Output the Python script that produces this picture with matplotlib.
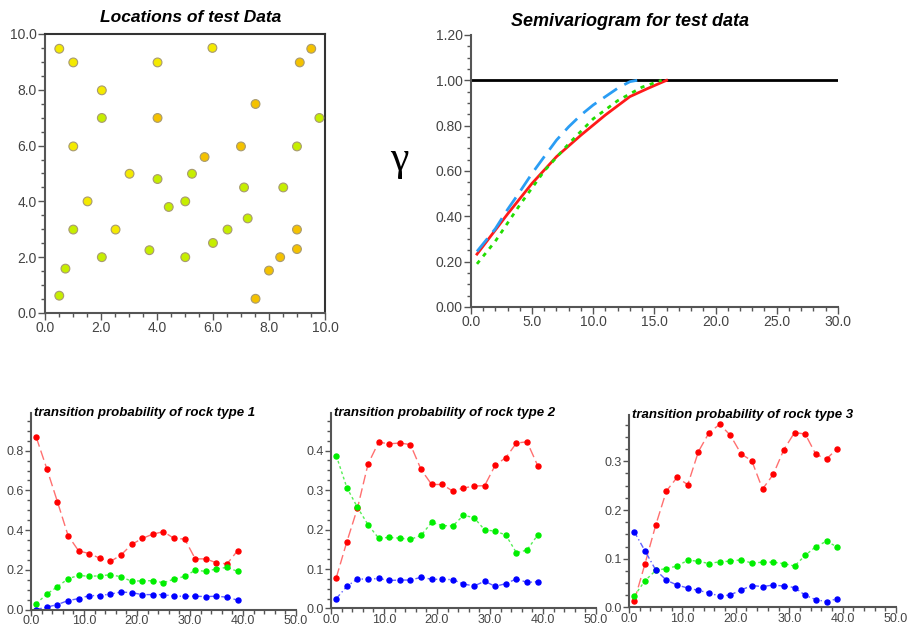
import matplotlib.pyplot as plt
from matplotlib.ticker import MultipleLocator, FormatStrFormatter

plt.rcParams['font.family'] = ['Liberation Sans', 'DejaVu Sans']

# -------------------------
# Data
# -------------------------
# locations of test data, colour group: 0 yellow, 1 yellow-green, 2 orange
loc_x = [0.51, 1.01, 2.03, 2.03, 4.02, 4.02, 5.98, 1.01, 3.02, 1.52,
         1.01, 2.52, 2.03, 0.73, 0.51, 3.73, 4.02, 4.42, 5.01, 5.01,
         5.25, 5.70, 6.00, 6.52, 7.00, 7.11, 7.24, 7.52, 7.52, 8.00,
         8.40, 8.51, 9.00, 9.00, 9.00, 9.10, 9.51, 9.80]
loc_y = [9.47, 8.98, 7.98, 6.99, 8.98, 6.99, 9.50, 5.97, 4.99, 4.00,
         2.99, 2.99, 2.00, 1.59, 0.62, 2.25, 4.80, 3.80, 4.00, 2.00,
         4.99, 5.59, 2.51, 2.99, 5.97, 4.50, 3.39, 7.49, 0.51, 1.52,
         2.00, 4.50, 5.97, 2.99, 2.29, 8.98, 9.47, 6.99]
loc_group = [0, 0, 0, 1, 0, 2, 0, 0, 0, 0,
             1, 0, 1, 1, 1, 1, 1, 1, 1, 1,
             1, 2, 1, 1, 2, 1, 1, 2, 2, 2,
             2, 1, 1, 2, 2, 2, 2, 1]
group_colors = ['#f4ea00', '#c6ee00', '#f4c200']

# semivariogram curves
sill = 1.0
red_h = [0.5, 3.0, 5.0, 7.0, 9.0, 11.0, 13.0, 14.5, 16.0]
red_g = [0.233, 0.41, 0.545, 0.663, 0.758, 0.847, 0.928, 0.965, 1.0]
blue_h = [0.5, 2.0, 3.0, 4.0, 5.0, 6.0, 7.0, 8.0, 9.0, 10.0, 11.0, 12.0, 13.0, 13.6]
blue_g = [0.245, 0.345, 0.43, 0.508, 0.589, 0.663, 0.736, 0.795, 0.847, 0.891,
          0.928, 0.965, 0.994, 1.0]
green_h = [0.5, 2.0, 4.0, 6.0, 8.0, 10.0, 12.0, 14.0, 15.6]
green_g = [0.19, 0.29, 0.45, 0.60, 0.72, 0.83, 0.91, 0.97, 1.0]

# transition probabilities
lags = list(range(1, 40, 2))

tp1_red = [0.867, 0.708, 0.542, 0.372, 0.295, 0.282, 0.258, 0.242, 0.275, 0.328,
           0.358, 0.38, 0.392, 0.358, 0.355, 0.255, 0.255, 0.235, 0.23, 0.297]
tp1_green = [0.03, 0.078, 0.115, 0.155, 0.172, 0.167, 0.17, 0.175, 0.165, 0.142,
             0.145, 0.145, 0.135, 0.153, 0.167, 0.198, 0.192, 0.205, 0.212, 0.192]
tp1_blue = [0.0, 0.012, 0.025, 0.045, 0.055, 0.07, 0.07, 0.078, 0.088, 0.085,
            0.075, 0.075, 0.075, 0.067, 0.067, 0.067, 0.065, 0.067, 0.062, 0.047]

tp2_red = [0.078, 0.169, 0.254, 0.366, 0.421, 0.417, 0.419, 0.415, 0.352, 0.314,
           0.314, 0.297, 0.305, 0.31, 0.311, 0.363, 0.382, 0.419, 0.422, 0.362]
tp2_green = [0.387, 0.306, 0.256, 0.212, 0.178, 0.18, 0.178, 0.175, 0.185, 0.218,
             0.21, 0.209, 0.236, 0.23, 0.199, 0.196, 0.186, 0.141, 0.148, 0.186]
tp2_blue = [0.025, 0.056, 0.075, 0.074, 0.076, 0.071, 0.072, 0.072, 0.079, 0.074,
            0.074, 0.073, 0.062, 0.057, 0.069, 0.056, 0.063, 0.075, 0.066, 0.068]

tp3_red = [0.014, 0.09, 0.169, 0.239, 0.267, 0.252, 0.32, 0.359, 0.376, 0.353,
           0.315, 0.301, 0.243, 0.273, 0.324, 0.359, 0.356, 0.314, 0.305, 0.326]
tp3_green = [0.024, 0.055, 0.076, 0.08, 0.085, 0.097, 0.095, 0.09, 0.094, 0.095,
             0.098, 0.091, 0.093, 0.093, 0.09, 0.085, 0.107, 0.125, 0.136, 0.124]
tp3_blue = [0.155, 0.116, 0.077, 0.056, 0.046, 0.04, 0.035, 0.03, 0.023, 0.026,
            0.036, 0.045, 0.043, 0.046, 0.044, 0.041, 0.025, 0.016, 0.012, 0.018]

tick_col = '#444444'
spine_col = '#555555'


def style_axis(ax, box=False, size=10, tick_len=5):
    for s in ['left', 'bottom']:
        ax.spines[s].set_color(spine_col)
        ax.spines[s].set_linewidth(1.5)
    if box:
        for s in ['top', 'right']:
            ax.spines[s].set_color('#333333')
            ax.spines[s].set_linewidth(1.5)
    else:
        ax.spines['top'].set_visible(False)
        ax.spines['right'].set_visible(False)
    ax.tick_params(which='major', length=tick_len, width=1, colors=spine_col,
                   labelcolor=tick_col, labelsize=size, pad=1)
    ax.tick_params(which='minor', length=3, width=1, colors=spine_col)
    ax.tick_params(top=False, right=False, which='both')


fig = plt.figure(figsize=(9.09, 6.29), dpi=100)

# -------------------------
# 1. Locations
# -------------------------
ax1 = fig.add_axes([0.0495, 0.5024, 0.308, 0.4436])
ax1.scatter(loc_x, loc_y, s=40, c=[group_colors[g] for g in loc_group],
            edgecolors='#a89a70', linewidths=0.8, zorder=3)
ax1.set_xlim(0, 10)
ax1.set_ylim(0, 10)
ax1.xaxis.set_major_locator(MultipleLocator(2))
ax1.yaxis.set_major_locator(MultipleLocator(2))
ax1.yaxis.set_minor_locator(MultipleLocator(0.5))
ax1.xaxis.set_minor_locator(MultipleLocator(0.5))
ax1.xaxis.set_major_formatter(FormatStrFormatter('%.1f'))
ax1.yaxis.set_major_formatter(FormatStrFormatter('%.1f'))
style_axis(ax1, box=True)
fig.text(191 / 909, 1 - 18 / 629, 'Locations of test Data', ha='center', va='center',
         fontsize=12.5, fontweight='bold', style='italic')

# -------------------------
# 2. Semivariogram
# -------------------------
ax2 = fig.add_axes([0.518, 0.512, 0.4037, 0.4324])
ax2.axhline(sill, color='black', lw=2)
ax2.plot(red_h, red_g, color='#ff1a1a', lw=2)
ax2.plot(blue_h, blue_g, color='#2a9df4', lw=2, dashes=(6, 3))
ax2.plot(green_h, green_g, color='#22dd00', lw=2, dashes=(1.5, 2))
ax2.set_xlim(0, 30)
ax2.set_ylim(0, 1.2)
ax2.xaxis.set_major_locator(MultipleLocator(5))
ax2.xaxis.set_minor_locator(MultipleLocator(1))
ax2.yaxis.set_major_locator(MultipleLocator(0.2))
ax2.yaxis.set_minor_locator(MultipleLocator(0.05))
ax2.xaxis.set_major_formatter(FormatStrFormatter('%.1f'))
ax2.yaxis.set_major_formatter(FormatStrFormatter('%.2f'))
style_axis(ax2)
fig.text(630 / 909, 1 - 22 / 629, 'Semivariogram for test data', ha='center', va='center',
         fontsize=13, fontweight='bold', style='italic')
fig.text(399 / 909, 1 - 160 / 629, 'γ', ha='center', va='center', fontsize=30,
         family=['Liberation Serif', 'DejaVu Serif'])

# -------------------------
# 3. Transition probabilities
# -------------------------
panels = [
    ([0.0341, 0.031, 0.2915, 0.3124], tp1_red, tp1_green, tp1_blue, 0.99, 0.2, 0.05,
     'transition probability of rock type 1'),
    ([0.3641, 0.0326, 0.2915, 0.3108], tp2_red, tp2_green, tp2_blue, 0.495, 0.1, 0.025,
     'transition probability of rock type 2'),
    ([0.692, 0.0342, 0.2937, 0.306], tp3_red, tp3_green, tp3_blue, 0.395, 0.1, 0.025,
     'transition probability of rock type 3'),
]

for rect, r, g, b, ytop, ymaj, ymin, title in panels:
    ax = fig.add_axes(rect)
    ax.plot(lags, r, color='#ff7070', lw=1, dashes=(7, 3), marker='o', ms=3.6,
            mfc='#ff0000', mec='#ff0000')
    ax.plot(lags, g, color='#55ee55', lw=1, dashes=(2, 2), marker='o', ms=3.6,
            mfc='#00ee00', mec='#00ee00')
    ax.plot(lags, b, color='#6060ff', lw=1, dashes=(4, 2, 1, 2), marker='o', ms=3.6,
            mfc='#0000ff', mec='#0000ff')
    ax.set_xlim(0, 50)
    ax.set_ylim(0, ytop)
    ax.xaxis.set_major_locator(MultipleLocator(10))
    ax.xaxis.set_minor_locator(MultipleLocator(2))
    ax.yaxis.set_major_locator(MultipleLocator(ymaj))
    ax.yaxis.set_minor_locator(MultipleLocator(ymin))
    ax.xaxis.set_major_formatter(FormatStrFormatter('%.1f'))
    ax.yaxis.set_major_formatter(FormatStrFormatter('%.1f'))
    style_axis(ax, size=9, tick_len=4)
    ax.tick_params(axis='x', pad=0)
    ax.text(0.01, 1.0, title, transform=ax.transAxes, ha='left', va='center',
            fontsize=9.5, fontweight='bold', style='italic')

fig.savefig('out.png', dpi=100)
